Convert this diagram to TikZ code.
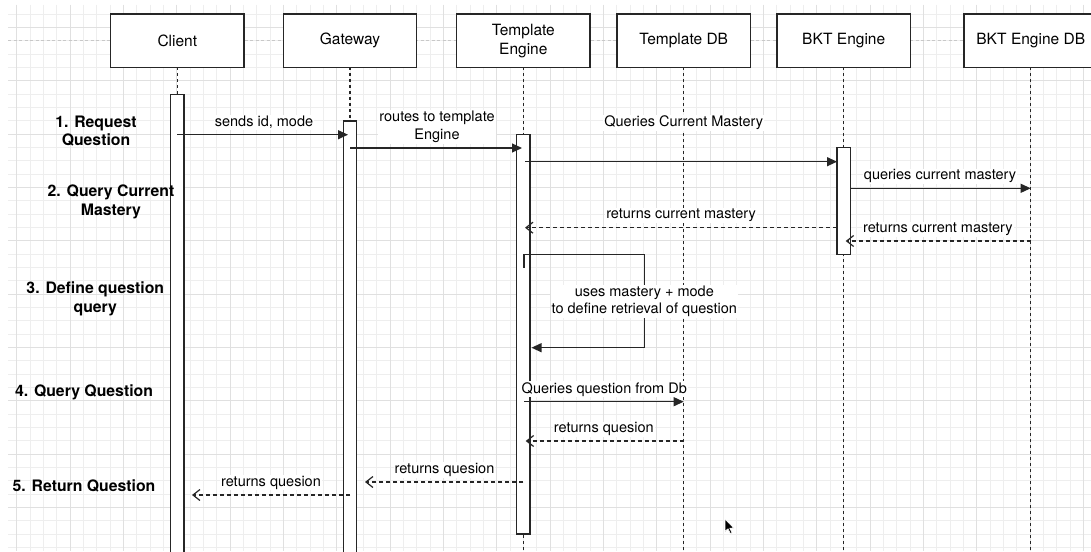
\documentclass[tikz,border=0pt]{standalone}
\usepackage{fontspec}
\setmainfont{TeX Gyre Heros}
\usetikzlibrary{arrows.meta}
\definecolor{ink}{RGB}{38,38,38}
\definecolor{gminor}{RGB}{238,238,238}
\definecolor{gmajor}{RGB}{224,224,224}
\definecolor{pagedash}{RGB}{200,200,200}
\begin{document}
\begin{tikzpicture}[x=1pt,y=-1pt,
  every node/.style={inner sep=0pt, outer sep=0pt, text=black},
  actor/.style={draw=ink, line width=1.3pt, fill=white, minimum width=133.33pt, minimum height=53.33pt, align=center, font=\fontsize{15.5}{19}\selectfont},
  bar/.style={draw=ink, line width=1.3pt, fill=white, minimum width=13.33pt, anchor=north},
  life/.style={draw=ink, line width=1.2pt, dash pattern=on 3pt off 3pt},
  msg/.style={draw=ink, line width=1.2pt, -{Triangle[length=10pt,width=9pt]}},
  ret/.style={draw=ink, line width=1.2pt, dash pattern=on 4pt off 3pt, -{Straight Barb[length=7pt,width=11pt,line width=1.2pt]}},
  lbl/.style={fill=white, inner sep=1pt, align=center, font=\fontsize{14.5}{17.5}\selectfont},
  rowlbl/.style={align=center, font=\fontsize{15.8}{18.5}\selectfont\bfseries},
]
\useasboundingbox (0,0) rectangle (1091,551);
\clip (0,0) rectangle (1091,551);
\fill[white] (0,0) rectangle (1091,551);
% grid
\foreach \i in {0,...,80} \draw[gminor, line width=0.8pt] ({16.667+13.3333*\i},5) -- ({16.667+13.3333*\i},551);
\foreach \j in {0,...,40} \draw[gminor, line width=0.8pt] (8,{14+13.3333*\j}) -- (1091,{14+13.3333*\j});
\foreach \i in {0,...,20} \draw[gmajor, line width=0.9pt] ({16.667+53.3333*\i},5) -- ({16.667+53.3333*\i},551);
\foreach \j in {0,...,9} \draw[gmajor, line width=0.9pt] (8,{27.33+53.3333*\j}) -- (1091,{27.33+53.3333*\j});
\coordinate (pgL) at (8,40.67);
\coordinate (pgR) at (1091,40.67);
\draw[pagedash, line width=1pt, dash pattern=on 3pt off 2.5pt] (pgL) -- (pgR);

% actors
\node[actor] (client) at (177.33,40.67) {Client};
\node[actor] (gw) at (350,40.67) {Gateway};
\node[actor] (te) at (523.33,40.67) {Template\\Engine};
\node[actor] (tdb) at (683.67,40.67) {Template DB};
\node[actor] (bkt) at (843.67,40.67) {BKT Engine};
\node[actor] (bdb) at (1030.67,40.67) {BKT Engine DB};

% lifelines
\coordinate (bot) at (0,560);
\foreach \a in {client,gw,te,tdb,bkt,bdb}
  \draw[life] (\a.south) -- (\a.south |- bot);

% activation bars
\node[bar, minimum height=470pt] (cbar) at (177.33,94.3) {};
\node[bar, minimum height=445pt] (gbar) at (350,121) {};
\node[bar, minimum height=399.7pt] (tbar) at (523.33,134.3) {};
\node[bar, minimum height=107pt] (bbar) at (843.67,147.7) {};

% message rows
\coordinate (y1) at (0,134.7);
\coordinate (y2) at (0,148);
\coordinate (y3) at (0,161.7);
\coordinate (y4) at (0,188.3);
\coordinate (y5) at (0,241);
\coordinate (y6) at (0,227.7);
\coordinate (y7) at (0,401.7);
\coordinate (y8) at (0,441);
\coordinate (y9) at (0,482);
\coordinate (y10) at (0,495);

\coordinate (t1) at (348,134.7);
\coordinate (t2) at (522,148);
\coordinate (s3) at (525,161.7);
\coordinate (e5) at (845.7,241);
\coordinate (e6) at (525,227.7);
\coordinate (s7) at (524,401.7);
\coordinate (e8) at (525.7,441);
\coordinate (e9) at (365,482);
\coordinate (e10) at (192,495);

\draw[msg] (cbar.center |- y1) -- (t1);
\draw[msg] (gbar.center |- y2) -- (t2);
\draw[msg] (s3) -- (bbar.west |- y3);
\draw[msg] (bbar.east |- y4) -- (bdb.center |- y4);
\draw[ret] (bdb.center |- y5) -- (e5);
\draw[ret] (bbar.west |- y6) -- (e6);

% self message
\coordinate (sl1) at (524,267.7);
\coordinate (sl2) at (524,254.3);
\coordinate (sl3) at (644.3,254.3);
\coordinate (sl4) at (644.3,347.7);
\coordinate (sl5) at (531.5,347.7);
\draw[msg] (sl1) -- (sl2) -- (sl3) -- (sl4) -- (sl5);

\draw[msg] (s7) -- (tdb.center |- y7);
\draw[ret] (tdb.center |- y8) -- (e8);
\draw[ret] (tbar.center |- y9) -- (e9);
\draw[ret] (gbar.center |- y10) -- (e10);

% message labels
\node[lbl] (l1) at (264,122.7) {sends id, mode};
\node[lbl] (l2) at (437,127) {routes to template\\Engine};
\node[lbl] (l3) at (683.7,122.7) {Queries Current Mastery};
\node[lbl] (l4) at (940,176.3) {queries current mastery};
\node[lbl] (l5) at (937.8,229.3) {returns current mastery};
\node[lbl] (l6) at (681,215.7) {returns current mastery};
\node[lbl, font=\fontsize{14.5}{17}\selectfont] (l7) at (644.3,301.5) {uses mastery + mode\\to define retrieval of question};
\node[lbl] (l8) at (604.3,389.3) {Queries question from Db};
\node[lbl] (l9) at (603.8,429.3) {returns quesion};
\node[lbl] (l10) at (444.5,470) {returns quesion};
\node[lbl] (l11) at (271,482.5) {returns quesion};

% row labels
\node[rowlbl] (r1) at (96,131) {1. Request\\Question};
\node[rowlbl] (r2) at (111,202) {2. Query Current\\Mastery};
\node[rowlbl] (r3) at (95.3,299) {3. Define question\\query};
\node[rowlbl] (r4) at (84,392.3) {4. Query Question};
\node[rowlbl] (r5) at (84,485.7) {5. Return Question};

% mouse cursor
\coordinate (cur) at (725,519);
\filldraw[fill=black, draw=white, line width=0.6pt, shift={(cur)}]
  (0,0) -- (0,12.5) -- (3,9.7) -- (5.3,14.6) -- (7,13.8) -- (4.8,9.2) -- (8.8,9.2) -- cycle;
\end{tikzpicture}
\end{document}
